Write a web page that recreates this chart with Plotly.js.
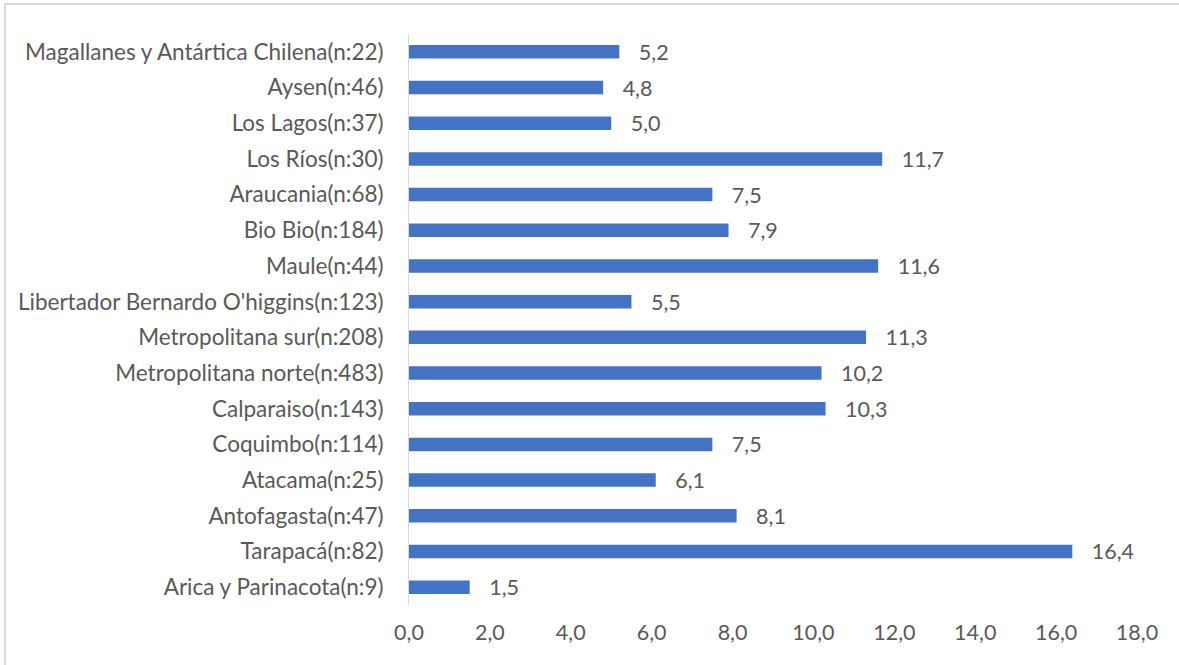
<!DOCTYPE html>
<html>
<head>
<meta charset="utf-8">
<script src="https://cdn.plot.ly/plotly-3.0.1.min.js"></script>
<style>
  html, body { margin: 0; padding: 0; background: #fff; }
  #wrap { position: relative; width: 1179px; height: 665px; overflow: hidden; }
  #chart { width: 1179px; height: 665px; }
  #frame { position: absolute; left: 4px; top: 3px; width: 1200px; height: 700px;
           border-top: 2px solid #d9d9d9; border-left: 2px solid #d9d9d9; pointer-events: none; }
</style>
</head>
<body>
<div id="wrap">
  <div id="chart"></div>
  <div id="frame"></div>
</div>
<script>
const regions = [
  "Magallanes y Antártica Chilena(n:22)",
  "Aysen(n:46)",
  "Los Lagos(n:37)",
  "Los Ríos(n:30)",
  "Araucania(n:68)",
  "Bio Bio(n:184)",
  "Maule(n:44)",
  "Libertador Bernardo O'higgins(n:123)",
  "Metropolitana sur(n:208)",
  "Metropolitana norte(n:483)",
  "Calparaiso(n:143)",
  "Coquimbo(n:114)",
  "Atacama(n:25)",
  "Antofagasta(n:47)",
  "Tarapacá(n:82)",
  "Arica y Parinacota(n:9)"
];
const values = [5.2, 4.8, 5.0, 11.7, 7.5, 7.9, 11.6, 5.5, 11.3, 10.2, 10.3, 7.5, 6.1, 8.1, 16.4, 1.5];
const xTicks = [0, 2, 4, 6, 8, 10, 12, 14, 16, 18];

const fontFamily = "Lato, 'Open Sans', sans-serif";
const textColor = "#595959";
const fs = 21.5;

const trace = {
  type: "bar",
  orientation: "h",
  y: regions,
  x: values,
  marker: { color: "#4472C4", line: { width: 0 } },
  texttemplate: "\u00a0\u00a0\u00a0%{x:.1f}",
  textposition: "outside",
  constraintext: "none",
  cliponaxis: false,
  textfont: { family: fontFamily, size: fs, color: textColor },
  hoverinfo: "none"
};

const layout = {
  width: 1179,
  height: 665,
  margin: { l: 409, r: 42, t: 34, b: 60 },
  paper_bgcolor: "#ffffff",
  plot_bgcolor: "#ffffff",
  separators: ",.",
  bargap: 0.62,
  showlegend: false,
  font: { family: fontFamily, size: fs, color: textColor },
  xaxis: {
    range: [0, 18],
    tickvals: xTicks,
    tickformat: ".1f",
    showgrid: false,
    zeroline: false,
    showline: false,
    ticks: "",
    ticklabelstandoff: 12,
    tickfont: { family: fontFamily, size: fs, color: textColor }
  },
  yaxis: {
    autorange: "reversed",
    showgrid: false,
    zeroline: false,
    showline: true,
    linecolor: "#d9d9d9",
    linewidth: 1,
    ticks: "",
    ticklabelstandoff: 20,
    tickfont: { family: fontFamily, size: 22.5, color: textColor }
  }
};

Plotly.newPlot("chart", [trace], layout, { staticPlot: true, displayModeBar: false });
</script>
</body>
</html>
